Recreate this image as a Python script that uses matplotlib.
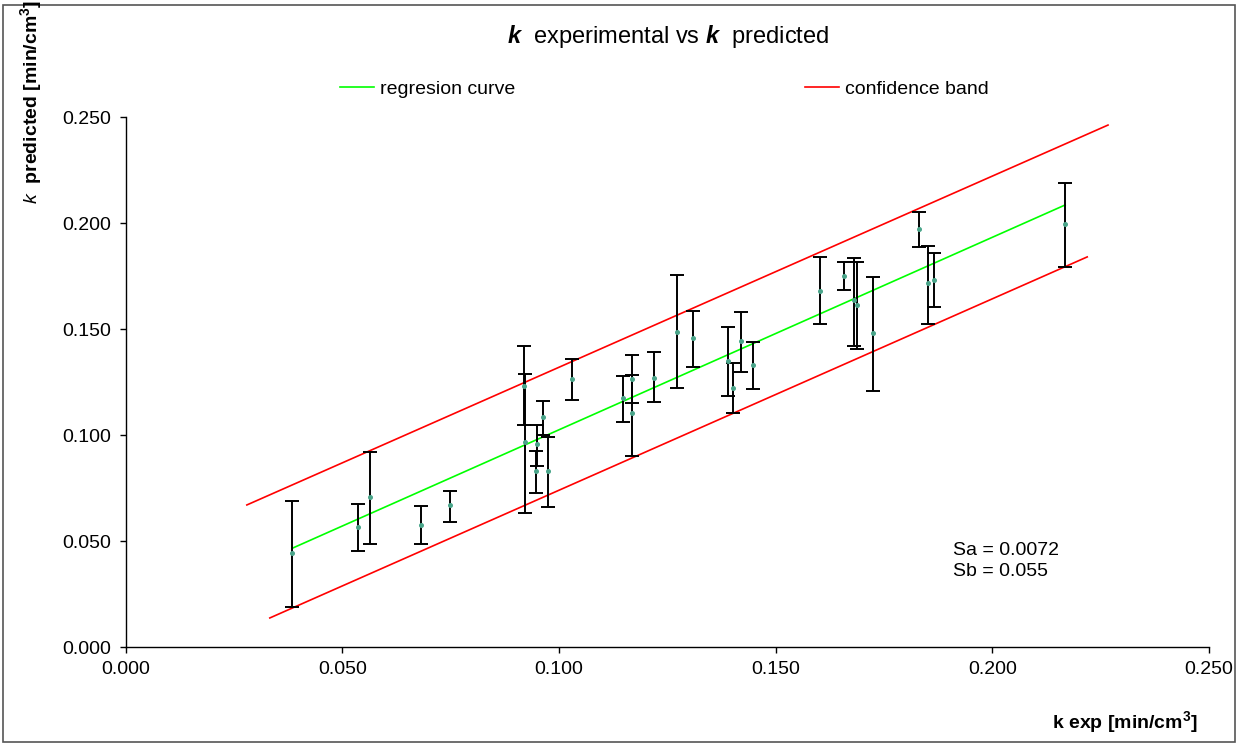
import matplotlib
matplotlib.use('Agg')
import numpy as np
import matplotlib.pyplot as plt
from matplotlib.lines import Line2D
from matplotlib.patches import Rectangle

# ---------------- data ----------------
k_exp = [0.0385, 0.0537, 0.0563, 0.0681, 0.0749, 0.0920, 0.0922, 0.0947, 0.0949, 0.0963,
         0.0976, 0.1030, 0.1147, 0.1168, 0.1168, 0.1220, 0.1273, 0.1309, 0.1391, 0.1401,
         0.1420, 0.1447, 0.1603, 0.1658, 0.1681, 0.1687, 0.1724, 0.1830, 0.1851, 0.1866,
         0.2168]
k_pred = [0.0445, 0.0567, 0.0709, 0.0575, 0.0670, 0.1233, 0.0966, 0.0832, 0.0956, 0.1086,
          0.0832, 0.1263, 0.1176, 0.1263, 0.1102, 0.1270, 0.1487, 0.1459, 0.1350, 0.1220,
          0.1445, 0.1330, 0.1679, 0.1751, 0.1637, 0.1613, 0.1480, 0.1972, 0.1716, 0.1731,
          0.1994]
err_upper = [0.0689, 0.0675, 0.0920, 0.0667, 0.0737, 0.1420, 0.1288, 0.0925, 0.1046, 0.1162,
             0.0989, 0.1360, 0.1280, 0.1377, 0.1283, 0.1390, 0.1755, 0.1586, 0.1508, 0.1338,
             0.1579, 0.1440, 0.1838, 0.1815, 0.1833, 0.1815, 0.1747, 0.2050, 0.1893, 0.1857,
             0.2187]
err_lower = [0.0190, 0.0454, 0.0484, 0.0484, 0.0588, 0.1047, 0.0631, 0.0725, 0.0855, 0.1000,
             0.0659, 0.1165, 0.1063, 0.1150, 0.0902, 0.1157, 0.1223, 0.1322, 0.1185, 0.1105,
             0.1296, 0.1216, 0.1522, 0.1684, 0.1420, 0.1404, 0.1208, 0.1885, 0.1522, 0.1602,
             0.1794]

reg_x = [0.0385, 0.2168]
reg_y = [0.0466, 0.2085]
band_up_x = [0.0280, 0.2267]
band_up_y = [0.0670, 0.2462]
band_lo_x = [0.0333, 0.2219]
band_lo_y = [0.0137, 0.1840]

ticks = [0.0, 0.05, 0.10, 0.15, 0.20, 0.25]
tick_labels = ['0.000', '0.050', '0.100', '0.150', '0.200', '0.250']
legend_labels = ['regresion curve', 'confidence band']
stats_text = 'Sa = 0.0072\nSb = 0.055'

# ---------------- style ----------------
plt.rcParams['font.family'] = ['Liberation Sans', 'DejaVu Sans']
plt.rcParams['mathtext.fontset'] = 'custom'
plt.rcParams['mathtext.rm'] = 'Liberation Sans'
plt.rcParams['mathtext.it'] = 'Liberation Sans:italic'
plt.rcParams['mathtext.bf'] = 'Liberation Sans:bold'
try:
    plt.rcParams['mathtext.bfit'] = 'Liberation Sans:italic:bold'
except Exception:
    pass

W, H = 1244, 744
fig = plt.figure(figsize=(W / 100, H / 100), dpi=100)
fig.patch.set_facecolor('white')

ax = fig.add_axes([125.5 / W, 1 - 647 / H, (1209 - 125.5) / W, (647 - 117) / H])

k_exp_a = np.array(k_exp)
k_pred_a = np.array(k_pred)
yerr = [k_pred_a - np.array(err_lower), np.array(err_upper) - k_pred_a]

ax.plot(band_up_x, band_up_y, color='#ff0000', lw=1.2, zorder=2)
ax.plot(band_lo_x, band_lo_y, color='#ff0000', lw=1.2, zorder=2)
ax.plot(reg_x, reg_y, color='#00ff00', lw=1.2, zorder=2)
ax.errorbar(k_exp_a, k_pred_a, yerr=yerr, fmt='o', ms=2.6, mfc='#4aa58a', mec='#4aa58a',
            ecolor='black', elinewidth=1.4, capsize=5, capthick=1.4, zorder=3)

ax.set_xlim(0, 0.25)
ax.set_ylim(0, 0.25)
ax.set_xticks(ticks)
ax.set_xticklabels(tick_labels)
ax.set_yticks(ticks)
ax.set_yticklabels(tick_labels)
for s in ['top', 'right']:
    ax.spines[s].set_visible(False)
for s in ['left', 'bottom']:
    ax.spines[s].set_linewidth(1.0)
    ax.spines[s].set_color('black')
ax.tick_params(axis='both', direction='out', length=4, width=1, labelsize=14,
               colors='black', pad=6)

# title
fig.text(668 / W, 1 - 37 / H,
         r'$\mathbfit{k}$  experimental vs $\mathbfit{k}$  predicted',
         ha='center', va='center', fontsize=17)

# legend
handles = [Line2D([], [], color='#00ff00', lw=1.2), Line2D([], [], color='#ff0000', lw=1.2)]
ax.legend(handles, legend_labels, ncol=2, loc='center left', frameon=False,
          bbox_to_anchor=(340 / W, 1 - 89 / H), bbox_transform=fig.transFigure,
          borderpad=0, borderaxespad=0, handlelength=1.75, handletextpad=0.3,
          columnspacing=14.9, fontsize=14)

# axis labels
fig.text(31 / W, 1 - 102 / H, r'$\mathit{k}$  $\mathbf{predicted\ [min/cm^{3}]}$',
         rotation=90, ha='center', va='center', fontsize=14)
fig.text(1198 / W, 1 - 722 / H, r'$\mathbf{k\ exp\ [min/cm^{3}]}$',
         ha='right', va='center', fontsize=14)

# stats
fig.text(953 / W, 1 - 561 / H, stats_text, ha='left', va='center', fontsize=14,
         linespacing=1.35)

# outer frame
fig.add_artist(Rectangle((3 / W, 1 - 742 / H), (1235 - 3) / W, (742 - 5) / H,
                         transform=fig.transFigure, fill=False, ec='#555555', lw=1.2))

fig.savefig('out.png', dpi=100)
